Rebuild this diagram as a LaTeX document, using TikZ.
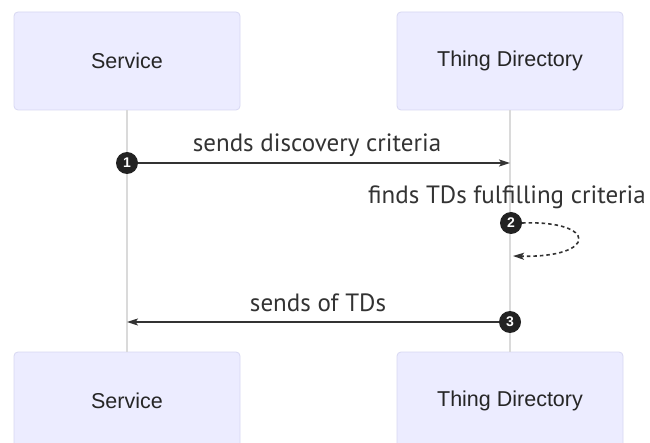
\documentclass[tikz,border=0pt]{standalone}
\usepackage{fontspec}
\setmainfont{Liberation Sans}
\newfontfamily\msgfont{PT Sans}
\usetikzlibrary{arrows.meta}
\definecolor{boxfill}{HTML}{ECECFF}
\definecolor{boxline}{HTML}{D8D8F2}
\definecolor{lifeline}{HTML}{DADADA}
\definecolor{msgline}{HTML}{333333}
\definecolor{numfill}{HTML}{222222}
\tikzset{
  actor/.style={draw=boxline, fill=boxfill, line width=0.8pt, rounded corners=4pt,
    minimum width=226pt, minimum height=98pt, inner sep=0pt,
    font=\fontsize{21.5}{24}\selectfont, text=black!85},
  life/.style={draw=lifeline, line width=1.4pt},
  msg/.style={draw=msgline, line width=1.8pt, -{Stealth[length=11pt,width=7pt,inset=2.5pt]}},
  msgtext/.style={font=\msgfont\fontsize{25}{28}\selectfont, text=msgline, inner sep=0pt},
  num/.style={circle, fill=numfill, minimum size=22pt, inner sep=0pt, text=white,
    font=\bfseries\fontsize{14}{14}\selectfont},
}
\begin{document}
\begin{tikzpicture}[x=1pt,y=-1pt]
\useasboundingbox (0,0) rectangle (650,443);
\clip (0,0) rectangle (650,443);
\fill[white] (0,0) rectangle (650,443);
% actors
\node[actor] (s1) at (127,61) {Service};
\node[actor] (t1) at (510,61) {Thing Directory};
\node[actor] (s2) at (127,401) {Service};
\node[actor] (t2) at (510,401) {Thing Directory};
% lifelines
\draw[life] (s1.south) -- (s2.north);
\draw[life] (t1.south) -- (t2.north);
% message 1
\coordinate (m1end) at (t1.south |- 0,163);
\draw[msg] (s1.south |- 0,163) -- (m1end);
\node[num] (c1) at (s1.south |- 0,163) {1};
\node[msgtext] (l1) at (317,145) {sends discovery criteria};
% message 2 (self loop)
\node[msgtext] (l2) at (507,197) {finds TDs fulfilling criteria};
\node[num] (c2) at (511,223) {2};
\coordinate (m2end) at (513,256);
\draw[msg, dash pattern=on 3.5pt off 3pt, line width=1.6pt]
  (c2.east) .. controls (598,220) and (598,258) .. (m2end);
% message 3
\node[num] (c3) at (t1.south |- 0,322) {3};
\coordinate (m3end) at (s1.south |- 0,322);
\draw[msg] (c3.west) -- (m3end);
\node[msgtext] (l3) at (318,303) {sends of TDs};
\end{tikzpicture}
\end{document}
